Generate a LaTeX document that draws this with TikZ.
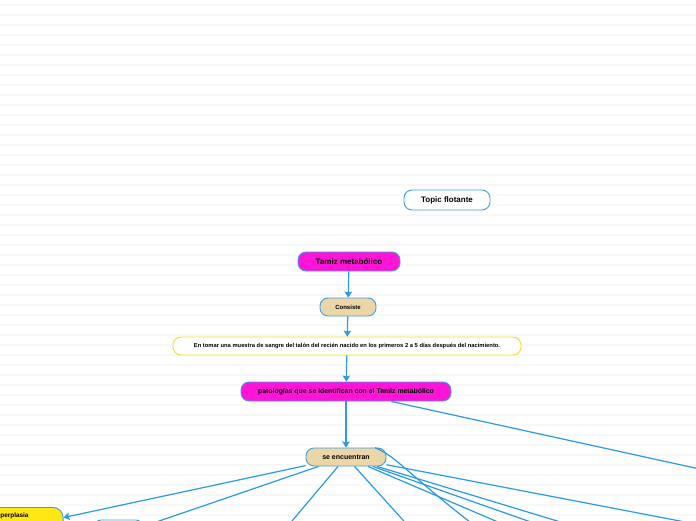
\documentclass[tikz,border=0pt]{standalone}
\usepackage{fontspec}
\setmainfont{Liberation Sans}
\usetikzlibrary{arrows.meta}
\definecolor{lnblue}{HTML}{2A9AE2}
\definecolor{bdblue}{HTML}{3C9FE6}
\definecolor{magfill}{HTML}{FF14D8}
\definecolor{tanfill}{HTML}{EBD6A8}
\definecolor{yelfill}{HTML}{FFE615}
\definecolor{yelborder}{HTML}{F2DE2A}
\definecolor{stripe}{HTML}{F8F8F8}
\tikzset{
  basebox/.style={draw=bdblue, line width=0.9pt, rounded corners=8pt, inner sep=0pt, text=black},
  magbox/.style={basebox, fill=magfill},
  tanbox/.style={basebox, fill=tanfill},
  whitebox/.style={basebox, fill=white},
  notebox/.style={basebox, draw=yelborder, fill=white},
  yelbox/.style={basebox, fill=yelfill, rounded corners=10pt},
  conn/.style={draw=lnblue, line width=1.2pt},
  arr/.style={conn, -{Stealth[length=6pt,width=7.5pt,inset=1pt]}},
  fsize/.style={font=\fontsize{#1}{#1}\selectfont\bfseries}
}
\begin{document}
\begin{tikzpicture}[x=1pt,y=-1pt]
\useasboundingbox (0,0) rectangle (696,520);
\clip (0,0) rectangle (696,520);
\fill[white] (0,0) rectangle (696,520);
\foreach \yy in {5,15,...,515} \draw[stripe, line width=1.2pt] (0,\yy) -- (696,\yy);

\node[whitebox, fsize=8, minimum width=86, minimum height=20] (topic) at (447,200) {Topic flotante};
\node[magbox, fsize=8, minimum width=102, minimum height=19] (tamiz) at (349,261.5) {Tamiz metabólico};
\node[tanbox, fsize=6, minimum width=56, minimum height=18] (consiste) at (348,307) {Consiste};
\node[notebox, fsize=5.8, minimum width=348, minimum height=18] (tomar) at (347,346) {En tomar una muestra de sangre del talón del recién nacido en los primeros 2 a 5 días después del nacimiento.};
\node[magbox, fsize=6.9, minimum width=210, minimum height=19] (pat) at (346,391.5) {patologías que se identifican con el Tamiz metabólico};
\node[tanbox, fsize=7, minimum width=80, minimum height=18] (se) at (346,457) {se encuentran};

\node[yelbox, fsize=6.4, anchor=north west, minimum width=73, minimum height=36, align=left, text width=65, inner xsep=4pt, inner ysep=0pt, text height=10pt, text depth=26pt] (hip) at (-10.4,507) {Hiperplasia};
\node[whitebox, anchor=north west, minimum width=50, minimum height=30] (box2) at (93,519.5) {};

\coordinate (offA) at (800,491);
\coordinate (c2) at (276,540);
\coordinate (c3) at (421,540);
\coordinate (c4) at (493,540);
\coordinate (c5) at (540,540);
\coordinate (c6) at (582,540);
\coordinate (c7) at (620,540);
\coordinate (c8) at (779,540);

\draw[arr] (tamiz) -- (consiste);
\draw[arr] (consiste) -- (tomar);
\draw[arr] (tomar) -- (pat);
\draw[arr] (pat) -- (se);
\draw[arr] (pat) -- (offA);

\draw[arr] (se) -- (hip);
\draw[arr] (se) -- (box2);
\draw[arr] (se) -- (c2);
\draw[arr] (se) -- (c3);
\draw[arr] (se.18) .. controls (400,459) and (402,470) .. (c4);
\draw[arr] (se) -- (c5);
\draw[arr] (se) -- (c6);
\draw[arr] (se) -- (c7);
\draw[arr] (se) -- (c8);
\end{tikzpicture}
\end{document}
